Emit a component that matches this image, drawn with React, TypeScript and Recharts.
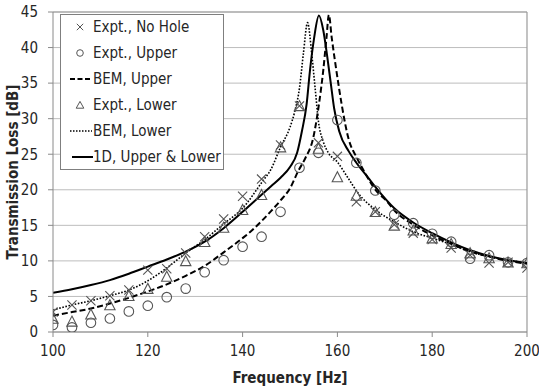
import React from 'react';
import {
  ComposedChart,
  Line,
  Scatter,
  XAxis,
  YAxis,
  CartesianGrid,
  ReferenceLine,
  Label,
} from 'recharts';

// ---------- data ----------
const expFreq = [100, 104, 108, 112, 116, 120, 124, 128, 132, 136, 140, 144, 148, 152, 156, 160, 164, 168, 172, 176, 180, 184, 188, 192, 196, 200];
const exptNoHole = [2.8, 3.8, 4.4, 5.1, 5.9, 8.7, 8.9, 11.1, 13.4, 15.9, 19.1, 21.5, 26.3, 31.8, 26.6, 24.7, 18.3, 16.9, 15.1, 13.9, 13.0, 11.8, 10.8, 9.7, 9.8, 9.0];
const exptUpper = [1.0, 0.65, 1.3, 1.9, 2.9, 3.7, 4.9, 6.1, 8.4, 10.1, 12.0, 13.4, 16.9, 23.1, 25.2, 29.8, 23.8, 19.9, 16.5, 15.3, 13.8, 12.7, 10.3, 10.8, 9.8, 9.7];
const exptLower = [1.9, 1.5, 2.5, 3.8, 5.1, 6.1, 7.8, 10.0, 12.7, 14.7, 17.2, 19.3, 26.0, 31.8, 25.8, 21.8, 19.2, 16.9, 15.0, 14.3, 13.2, 12.4, 11.1, 10.4, 9.8, 9.7];

const bemUpperFreq = [100, 104, 108, 112, 116, 120, 124, 128, 132, 136, 140, 142, 144, 146, 148, 150, 151.7, 153.2, 154.9, 156.1, 157.0, 157.7, 158.2, 158.8, 159.8, 160.9, 162.3, 164.1, 165.8, 168, 170.4, 172, 176, 180, 184, 188, 192, 196, 200];
const bemUpper = [2.3, 2.8, 3.3, 4.0, 4.8, 5.7, 6.7, 7.9, 9.3, 11.2, 13.2, 14.3, 15.6, 17.0, 18.5, 20.2, 22.6, 24.4, 27.3, 32.0, 36.7, 41.4, 44.6, 41.4, 36.7, 32.0, 27.3, 24.5, 22.4, 20.0, 18.4, 17.1, 15.1, 13.6, 12.4, 11.3, 10.6, 10.0, 9.6];

const bemLowerFreq = [100, 104, 108, 112, 116, 120, 124, 128, 132, 136, 140, 144, 146, 148, 150, 151, 152, 152.8, 153.7, 154.6, 155.3, 156.0, 157.0, 158, 160, 162.3, 164.4, 168, 172, 176, 180, 184, 188, 192, 196, 200];
const bemLower = [3.1, 3.8, 4.4, 5.1, 5.9, 7.2, 9.0, 11.1, 13.0, 15.2, 17.4, 21.0, 22.9, 26.0, 28.8, 31.0, 34.3, 39.0, 43.5, 39.0, 34.3, 29.6, 26.8, 25.3, 23.9, 21.6, 19.5, 17.2, 15.5, 14.1, 13.2, 12.3, 11.3, 10.6, 10.1, 9.7];

const oneDFreq = [100, 104, 108, 112, 116, 120, 124, 128, 132, 136, 140, 144, 146, 148, 150, 151.5, 152.5, 153.5, 154.2, 155.1, 156.1, 157.0, 157.8, 158.6, 159.3, 160.4, 162.4, 164, 166.6, 168, 172, 176, 180, 184, 188, 192, 196, 200];
const oneD = [5.5, 6.0, 6.6, 7.3, 8.2, 9.2, 10.2, 11.3, 12.7, 14.6, 16.9, 19.3, 20.5, 21.7, 23.2, 25.2, 28.2, 32.0, 36.7, 41.4, 44.5, 42.5, 39.0, 35.0, 31.5, 28.2, 25.4, 23.8, 21.6, 20.4, 17.4, 15.4, 13.9, 12.6, 11.5, 10.7, 10.1, 9.7];

const xTicks = [100, 120, 140, 160, 180, 200];
const yTicks = [0, 5, 10, 15, 20, 25, 30, 35, 40, 45];

const toPts = (f: number[], v: number[]) => f.map((x, i) => ({ f: x, v: v[i] }));

const noHoleData = toPts(expFreq, exptNoHole);
const upperData = toPts(expFreq, exptUpper);
const lowerData = toPts(expFreq, exptLower);
const bemUpperData = toPts(bemUpperFreq, bemUpper);
const bemLowerData = toPts(bemLowerFreq, bemLower);
const oneDData = toPts(oneDFreq, oneD);

// ---------- styles ----------
const FONT = "'Liberation Sans Narrow', 'DejaVu Sans Condensed', 'Liberation Sans', sans-serif";
const MARK = '#555';
const TEXT = '#262626';
const AXIS = '#8a8a8a';

const XShape = (props: any) => {
  const { cx, cy } = props;
  const s = 4.6;
  return (
    <path
      d={`M${cx - s},${cy - s}L${cx + s},${cy + s}M${cx - s},${cy + s}L${cx + s},${cy - s}`}
      stroke={MARK}
      strokeWidth={1.1}
      fill="none"
    />
  );
};

const CircleShape = (props: any) => {
  const { cx, cy } = props;
  return <circle cx={cx} cy={cy} r={4.8} stroke={MARK} strokeWidth={1.1} fill="none" />;
};

const TriShape = (props: any) => {
  const { cx, cy } = props;
  const w = 5.2, h = 9.5;
  return (
    <path
      d={`M${cx},${cy - h / 2 - 0.5}L${cx + w},${cy + h / 2}L${cx - w},${cy + h / 2}Z`}
      stroke={MARK}
      strokeWidth={1.1}
      fill="none"
    />
  );
};

const legendItems = [
  { label: 'Expt., No Hole', kind: 'x' },
  { label: 'Expt., Upper', kind: 'o' },
  { label: 'BEM, Upper', kind: 'dash' },
  { label: 'Expt., Lower', kind: 'tri' },
  { label: 'BEM, Lower', kind: 'dot' },
  { label: '1D, Upper & Lower', kind: 'solid' },
];

const legendIcon = (kind: string, m: number) => {
  const c = 20;
  if (kind === 'x') {
    const s = 3.2;
    return <path d={`M${c - s},${m - s}L${c + s},${m + s}M${c - s},${m + s}L${c + s},${m - s}`} stroke={MARK} strokeWidth={1} fill="none" />;
  }
  if (kind === 'o') return <circle cx={c} cy={m} r={3.3} stroke={MARK} strokeWidth={1} fill="none" />;
  if (kind === 'tri')
    return <path d={`M${c},${m - 3.6}L${c + 3.8},${m + 3.2}L${c - 3.8},${m + 3.2}Z`} stroke={MARK} strokeWidth={1} fill="none" />;
  if (kind === 'dash') return <line x1={10} y1={m} x2={32} y2={m} stroke="#000" strokeWidth={2} strokeDasharray="5 2.5" />;
  if (kind === 'dot') return <line x1={10} y1={m} x2={32} y2={m} stroke="#000" strokeWidth={1.5} strokeDasharray="1.5 1.5" />;
  return <line x1={12} y1={m} x2={33} y2={m} stroke="#000" strokeWidth={2} />;
};

const LegendBox = () => (
  <svg
    width={164}
    height={156}
    style={{ position: 'absolute', left: 60, top: 14, display: 'block' }}
  >
    <rect x={0.5} y={0.5} width={163} height={155} fill="#fff" stroke="#7f7f7f" strokeWidth={1} />
    {legendItems.map((it, i) => {
      const m = 13 + i * 26;
      return (
        <g key={it.label}>
          {legendIcon(it.kind, m)}
          <text x={33} y={m} dominantBaseline="central" fontFamily={FONT} fontSize={15} fill={TEXT}>
            {it.label}
          </text>
        </g>
      );
    })}
  </svg>
);

export default function App() {
  return (
    <div style={{ position: 'absolute', left: 0, top: 0, width: 539, height: 386, background: '#fff' }}>
      <ComposedChart width={539} height={386} margin={{ top: 12, right: 12, left: 0, bottom: 0 }}>
        <CartesianGrid vertical={false} stroke="#bdbdbd" strokeWidth={1} />
        <XAxis
          dataKey="f"
          type="number"
          domain={[100, 200]}
          ticks={xTicks}
          allowDataOverflow
          height={54}
          tickSize={5}
          tickMargin={8}
          stroke={AXIS}
          tick={{ fill: TEXT, fontSize: 15, fontFamily: FONT }}
        >
          <Label
            content={() => (
              <text x={290} y={383} textAnchor="middle" fontFamily={FONT} fontSize={15} fontWeight="bold" fill={TEXT}>
                Frequency [Hz]
              </text>
            )}
          />
        </XAxis>
        <YAxis
          dataKey="v"
          type="number"
          domain={[0, 45]}
          ticks={yTicks}
          allowDataOverflow
          width={53}
          tickSize={5}
          tickMargin={10}
          stroke={AXIS}
          tick={{ fill: TEXT, fontSize: 15, fontFamily: FONT }}
        >
          <Label
            content={() => (
              <text
                x={13}
                y={172}
                transform="rotate(-90 13 172)"
                textAnchor="middle"
                dominantBaseline="central"
                fontFamily={FONT}
                fontSize={15}
                fontWeight="bold"
                fill={TEXT}
              >
                Transmission Loss [dB]
              </text>
            )}
          />
        </YAxis>
        <ReferenceLine y={45} stroke="#9a9a9a" strokeWidth={1.2} />
        <ReferenceLine x={200} stroke="#9a9a9a" strokeWidth={1.2} />
        <Line data={bemUpperData} dataKey="v" type="monotone" stroke="#000" strokeWidth={2} strokeDasharray="6 3" dot={false} isAnimationActive={false} name="BEM, Upper" />
        <Line data={bemLowerData} dataKey="v" type="monotone" stroke="#000" strokeWidth={1.6} strokeDasharray="1.6 1.6" dot={false} isAnimationActive={false} name="BEM, Lower" />
        <Line data={oneDData} dataKey="v" type="monotone" stroke="#000" strokeWidth={2} dot={false} isAnimationActive={false} name="1D, Upper & Lower" />
        <Scatter data={noHoleData} dataKey="v" shape={XShape} isAnimationActive={false} name="Expt., No Hole" />
        <Scatter data={upperData} dataKey="v" shape={CircleShape} isAnimationActive={false} name="Expt., Upper" />
        <Scatter data={lowerData} dataKey="v" shape={TriShape} isAnimationActive={false} name="Expt., Lower" />
      </ComposedChart>
      <LegendBox />
    </div>
  );
}
